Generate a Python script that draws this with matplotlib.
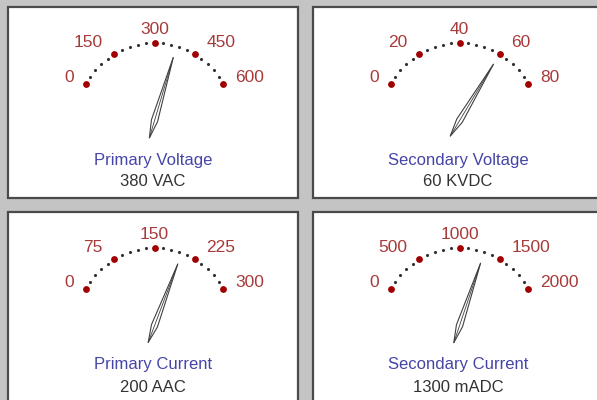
import numpy as np
import matplotlib
matplotlib.use('Agg')
import matplotlib.pyplot as plt
from matplotlib.patches import Rectangle, Polygon

#------------------------------------------------------------------------------
# datos de los 4 instrumentos

titles    = ['Primary Voltage', 'Secondary Voltage', 'Primary Current', 'Secondary Current']
units     = ['VAC', 'KVDC', 'AAC', 'mADC']
scale_max = [600, 80, 300, 2000]
values    = [380, 60, 200, 1300]
n_major   = 4          # intervalos mayores
n_minor   = 5          # subdivisiones por intervalo mayor

#------------------------------------------------------------------------------

W, H = 597, 400
fig = plt.figure(figsize=(W / 100, H / 100), dpi=100)
fig.patch.set_facecolor('#c4c4c4')
ax = fig.add_axes([0, 0, 1, 1])
ax.set_xlim(0, W)
ax.set_ylim(H, 0)
ax.axis('off')

plt.rcParams['font.family'] = ['Liberation Sans', 'DejaVu Sans']

panel_w, panel_h = 290, 191
origins = [(8, 7), (313, 7), (8, 212), (313, 212)]

sweep = 62.0             # grados a cada lado de la vertical
radius = 77.7
ctr = (146.5, 113.7)     # centro del arco relativo al panel


def draw_gauge(x0, y0, title, unit, vmax, val):
    ax.add_patch(Rectangle((x0, y0), panel_w, panel_h, facecolor='white',
                           edgecolor='#4a4a4a', lw=1.6, zorder=1))
    cx, cy = x0 + ctr[0], y0 + ctr[1]

    # puntos menores
    th = np.radians(np.linspace(-sweep, sweep, n_major * n_minor + 1))
    ax.scatter(cx + radius * np.sin(th), cy - radius * np.cos(th),
               s=5, color='#303030', zorder=3, lw=0)

    # puntos mayores y etiquetas
    ticks = np.linspace(0, vmax, n_major + 1)
    thm = np.radians(-sweep + 2 * sweep * ticks / vmax)
    ax.scatter(cx + radius * np.sin(thm), cy - radius * np.cos(thm),
               s=24, color='#a00000', zorder=4, lw=0)
    for t, a in zip(ticks, thm):
        px = cx + radius * np.sin(a)
        py = cy - radius * np.cos(a)
        sgn = np.sign(np.round(np.sin(a), 6))
        ha = {-1: 'right', 0: 'center', 1: 'left'}[int(sgn)]
        ax.text(px + 12 * sgn, py - 13.5 * np.cos(a), '%d' % t, ha=ha,
                va='center', color='#a83a3a', fontsize=12.5, zorder=5)

    # aguja
    a = np.radians(-sweep + 2 * sweep * val / vmax)
    d = np.array([np.sin(a), -np.cos(a)])
    n = np.array([np.cos(a), np.sin(a)])
    c = np.array([cx, cy])
    tip = c + 66 * d
    tail = c - 18 * d
    pts = [tip, c + 3.2 * n, tail, c - 3.2 * n]
    ax.add_patch(Polygon(pts, closed=True, fill=False, edgecolor='#404040',
                         lw=0.8, zorder=6))
    ax.plot([tip[0], tail[0]], [tip[1], tail[1]], color='#404040', lw=0.6,
            zorder=6)

    ax.text(x0 + 145, y0 + 153, title, ha='center', va='center',
            color='#4545a8', fontsize=12)
    ax.text(x0 + 145, y0 + 175, '%d %s' % (val, unit), ha='center',
            va='center', color='#333333', fontsize=12)


for (x0, y0), tt, uu, vm, vv in zip(origins, titles, units, scale_max, values):
    draw_gauge(x0, y0, tt, uu, vm, vv)

fig.savefig('out.png', dpi=100, facecolor=fig.get_facecolor())
